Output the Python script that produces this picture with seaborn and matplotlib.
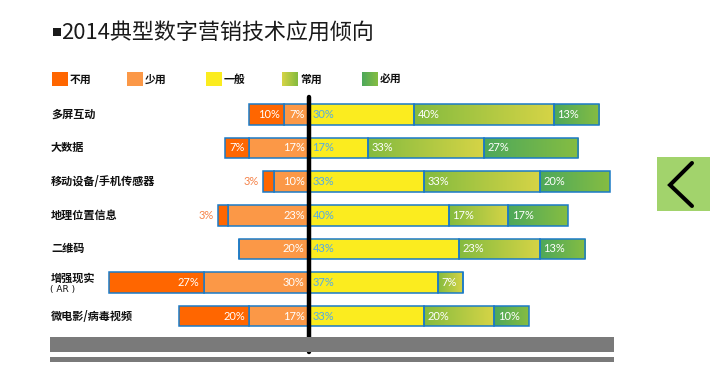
import numpy as np
import pandas as pd
import matplotlib
matplotlib.use('Agg')
import matplotlib.pyplot as plt
import seaborn as sns
from matplotlib.patches import Rectangle
from matplotlib.lines import Line2D
from matplotlib.colors import LinearSegmentedColormap

# ---------------- data ----------------
title = '2014典型数字营销技术应用倾向'
categories = ['多屏互动', '大数据', '移动设备/手机传感器', '地理位置信息',
              '二维码', '增强现实\n( AR )', '微电影/病毒视频']
never = [10, 7, 3, 3, 0, 27, 20]      # 不用
rarely = [7, 17, 10, 23, 20, 30, 17]  # 少用
normal = [30, 17, 33, 40, 43, 37, 33]  # 一般
often = [40, 33, 33, 17, 23, 7, 20]   # 常用
always = [13, 27, 20, 17, 13, 0, 10]  # 必用
legend_labels = ['不用', '少用', '一般', '常用', '必用']

# ---------------- style ----------------
W, H = 720, 369
sns.set_theme(style='white')
plt.rcParams['font.family'] = ['Noto Sans CJK SC', 'DejaVu Sans']

C_NEVER = '#ff6600'
C_RARE = '#fb9847'
C_NORM = '#fbec1f'
OFTEN_CM = LinearSegmentedColormap.from_list('often', ['#84bb3f', '#d6d446'])
ALWAYS_CM = LinearSegmentedColormap.from_list('always', ['#4da85b', '#86bd42'])
EDGE = '#1b7ac6'
BLUE_TXT = '#52aae6'
ORANGE_TXT = '#f5834a'

fig = plt.figure(figsize=(W / 100, H / 100), dpi=100)
ax = fig.add_axes([0, 0, 1, 1])

df = pd.DataFrame({'cat': categories, 'never': never, 'rarely': rarely,
                   'normal': normal, 'often': often, 'always': always})

BW = 0.61


def layer(vals, left, color):
    n0 = len(ax.patches)
    sns.barplot(x=np.asarray(vals, dtype=float), y=df['cat'], order=categories,
                orient='h', color=color, saturation=1, width=BW,
                errorbar=None, left=np.asarray(left, dtype=float),
                edgecolor=EDGE, linewidth=1.1, ax=ax)
    ps = ax.patches[n0:]
    for p in ps:
        p.set_zorder(2)
    return ps


r = np.array(rarely, float)
n = np.array(never, float)
a = np.array(normal, float)
o = np.array(often, float)
w = np.array(always, float)

p_rare = layer(-r, np.zeros_like(r), C_RARE)
p_never = layer(-n, -r, C_NEVER)
p_norm = layer(a, np.zeros_like(a), C_NORM)
p_often = layer(o, a, '#aac840')
p_always = layer(w, a + o, '#6ab44e')

grad = np.linspace(0, 1, 256).reshape(1, -1)
for patches, cmap in ((p_often, OFTEN_CM), (p_always, ALWAYS_CM)):
    for p in patches:
        bb = p.get_bbox()
        if abs(bb.x1 - bb.x0) < 1e-9:
            continue
        p.set_facecolor('none')
        im = ax.imshow(grad, cmap=cmap, aspect='auto',
                       extent=(bb.xmin, bb.xmax, bb.ymax, bb.ymin), zorder=1.5,
                       interpolation='bilinear')
        im.set_clip_path(p)

LBL = dict(fontsize=8, family=['Lato', 'DejaVu Sans'], va='center')
pad = 1.1
for i in range(len(categories)):
    bb = p_rare[i].get_bbox()
    yc = (bb.ymin + bb.ymax) / 2
    if rarely[i] > 0:
        ax.text(-pad, yc, f'{rarely[i]}%', color='white', ha='right', zorder=6, **LBL)
    if never[i] > 0:
        bbn = p_never[i].get_bbox()
        if never[i] >= 5:
            ax.text(bbn.xmax - pad, yc, f'{never[i]}%', color='white', ha='right', zorder=6, **LBL)
        else:
            ax.text(bbn.xmin - pad, yc, f'{never[i]}%', color=ORANGE_TXT, ha='right', zorder=6, **LBL)
    for vals, ps, col in ((normal, p_norm, BLUE_TXT), (often, p_often, 'white'),
                          (always, p_always, 'white')):
        if vals[i] > 0:
            b = ps[i].get_bbox()
            ax.text(b.xmin + pad, yc, f'{vals[i]}%', color=col, ha='left', zorder=6, **LBL)

# axes mapping: pixel -> data
X0, SC = 308.5, 3.5
ROW0, ROWS = 114.3, 33.65
ax.set_xlim(-X0 / SC, (W - X0) / SC)
ax.set_ylim((H - ROW0) / ROWS, -ROW0 / ROWS)
ax.axis('off')

# center black line
ax.axvline(0, ymin=1 - 352 / H, ymax=1 - 97 / H, color='black', lw=3.2, zorder=7)

# category labels
ytr = ax.get_yaxis_transform()
for i, c in enumerate(categories):
    parts = c.split('\n')
    if len(parts) == 1:
        ax.text(51 / W, i, c, transform=ytr, fontsize=8, fontweight='bold',
                color='#111111', va='center', ha='left')
    else:
        ax.text(51 / W, i - 4.6 / ROWS, parts[0], transform=ytr, fontsize=8,
                fontweight='bold', color='#111111', va='center', ha='left')
        ax.text(50 / W, i + 6.8 / ROWS, parts[1], transform=ytr, fontsize=6.5,
                family=['DejaVu Sans'], color='#111111', va='center', ha='left')


def frect(x0, y0, x1, y1, **kw):
    fig.add_artist(Rectangle((x0 / W, 1 - y1 / H), (x1 - x0) / W, (y1 - y0) / H,
                             transform=fig.transFigure, **kw))


# bottom gray bars
frect(50, 337, 614, 351.5, facecolor='#7a7a7a', edgecolor='none')
frect(50, 357, 614, 361.5, facecolor='#7a7a7a', edgecolor='none')

# title (small square marker + text)
frect(53, 28.3, 61, 36, facecolor='#1a1a1a', edgecolor='none')
fig.text(61.5 / W, 1 - 38.5 / H, title, fontsize=15.85, color='#1a1a1a',
         va='baseline', ha='left')

# legend
leg_x = [52, 127, 206, 282, 362]
leg_kind = [C_NEVER, C_RARE, C_NORM, OFTEN_CM.reversed(), ALWAYS_CM]
for lx, kind, lab in zip(leg_x, leg_kind, legend_labels):
    if isinstance(kind, str):
        frect(lx, 72, lx + 16, 86, facecolor=kind, edgecolor='none')
    else:
        lax = fig.add_axes([lx / W, 1 - 86 / H, 16 / W, 14 / H])
        lax.imshow(grad, cmap=kind, aspect='auto', interpolation='bilinear')
        lax.axis('off')
    fig.text((lx + 18) / W, 1 - 79.5 / H, lab, fontsize=7.8, fontweight='bold',
             color='#111111', va='center', ha='left')

# navigation button
frect(657, 157, 710, 211, facecolor='#a2d36c', edgecolor='none')
fig.add_artist(Line2D([692 / W, 670 / W, 692 / W],
                      [1 - 163 / H, 1 - 185 / H, 1 - 206 / H],
                      transform=fig.transFigure, color='black', lw=2.9,
                      solid_joinstyle='miter'))

fig.savefig('out.png', dpi=100)
